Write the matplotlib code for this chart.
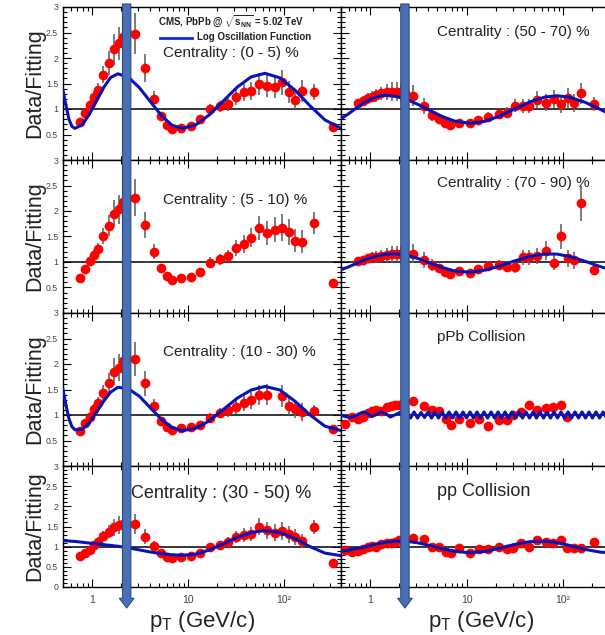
import numpy as np
import matplotlib.pyplot as plt
from matplotlib.patches import FancyArrowPatch, ArrowStyle
from matplotlib.lines import Line2D
from matplotlib.ticker import LogLocator, NullFormatter, MultipleLocator
from matplotlib.transforms import blended_transform_factory

plt.rcParams['font.family'] = ['Liberation Sans', 'DejaVu Sans']
plt.rcParams['mathtext.fontset'] = 'custom'
plt.rcParams['mathtext.rm'] = 'Liberation Sans'
plt.rcParams['mathtext.it'] = 'Liberation Sans:italic'
plt.rcParams['mathtext.bf'] = 'Liberation Sans:bold'

## pT bins (GeV/c)

pbpb_pt = [0.75, 0.85, 0.95, 1.05, 1.15, 1.3, 1.5, 1.7, 1.9, 2.1, 2.3, 2.8, 3.6, 4.4, 5.2, 6.0,
           6.8, 8.4, 10.8, 13.2, 16.8, 21.6, 26.4, 32.0, 38.4, 44.8, 54.4, 67.2, 80.0, 95.0,
           112.2, 130.4, 152.5, 207.5, 325.0]

# relative uncertainty per PbPb bin
pbpb_rel_err = [0.08, 0.08, 0.09, 0.09, 0.10, 0.10, 0.12, 0.14, 0.14, 0.14, 0.14, 0.16, 0.15,
                0.12, 0.09, 0.08, 0.08, 0.08, 0.09, 0.10, 0.10, 0.10, 0.11, 0.12, 0.13, 0.13,
                0.14, 0.15, 0.15, 0.16, 0.16, 0.16, 0.16, 0.12, 0.08]

pa_pt = [0.55, 0.65, 0.75, 0.85, 0.95, 1.05, 1.15, 1.3, 1.5, 1.65, 1.8, 2.0, 2.8, 3.6, 4.4, 5.2,
         6.2, 6.9, 8.4, 10.8, 13.5, 16.8, 21.9, 26.0, 30.6, 37.0, 44.8, 54.3, 66.4, 79.4, 94.5,
         109.0]
pp_pt = pa_pt + [130.4, 152.5, 207.5]

## data / fit ratios

ratio_0_5 = [0.75, 0.93, 1.08, 1.24, 1.37, 1.67, 1.90, 2.17, 2.29, 2.42, 2.50, 2.48, 1.80, 1.20,
             0.86, 0.69, 0.60, 0.63, 0.67, 0.80, 1.00, 1.05, 1.09, 1.23, 1.33, 1.35, 1.49, 1.45,
             1.43, 1.52, 1.33, 1.18, 1.36, 1.33, 0.65]
ratio_5_10 = [0.69, 0.86, 1.01, 1.14, 1.25, 1.51, 1.71, 1.95, 2.03, 2.18, 2.25, 2.26, 1.73, 1.20,
              0.89, 0.73, 0.65, 0.68, 0.70, 0.80, 0.99, 1.05, 1.12, 1.27, 1.35, 1.48, 1.67, 1.57,
              1.63, 1.67, 1.59, 1.42, 1.40, 1.76, 0.58]
ratio_10_30 = [0.69, 0.84, 0.97, 1.11, 1.23, 1.44, 1.62, 1.85, 1.93, 2.05, 2.10, 2.09, 1.62, 1.17,
               0.89, 0.76, 0.70, 0.75, 0.76, 0.81, 0.95, 1.04, 1.09, 1.15, 1.24, 1.29, 1.40, 1.40,
               np.nan, 1.37, 1.18, 1.12, 1.06, 1.07, 0.73]
ratio_30_50 = [0.77, 0.85, 0.92, 1.04, 1.12, 1.27, 1.37, 1.48, 1.54, 1.55, 1.55, 1.56, 1.24, 1.01,
               0.84, 0.75, 0.73, 0.74, 0.77, 0.84, 0.99, 1.04, 1.12, 1.24, 1.29, 1.32, 1.49, 1.41,
               1.35, 1.39, 1.31, 1.25, 1.14, 1.49, 0.60]
ratio_50_70 = [1.11, 1.16, 1.21, 1.24, 1.27, 1.31, 1.33, 1.34, 1.34, 1.33, 1.32, 1.26, 1.06, 0.88,
               0.80, 0.73, 0.69, 0.72, 0.73, 0.78, 0.85, 0.90, 0.93, 1.06, 1.05, 1.06, 1.18, 1.12,
               1.19, 1.10, 1.21, 1.12, 1.31, 1.10, np.nan]
ratio_70_90 = [1.01, 1.04, 1.07, 1.09, 1.10, 1.12, 1.14, 1.15, 1.16, 1.16, 1.16, 1.16, 1.04, 0.94,
               0.88, 0.81, 0.76, 0.83, 0.79, 0.86, 0.92, 0.94, 0.91, 0.90, 1.09, 1.09, 1.12, 1.22,
               0.99, 1.50, 1.07, 1.03, 2.15, 0.84, np.nan]
ratio_ppb = [0.82, 0.97, 0.93, 0.97, 1.03, 1.07, 1.10, 1.07, 1.15, 1.18, 1.20, 1.20, 1.28, 1.18,
             1.10, 1.08, 0.93, 0.80, 0.92, 0.85, 0.92, 0.78, 0.90, 0.90, 1.00, 1.05, 1.20, 1.10,
             1.13, 1.16, 1.20, 0.97]
ratio_pp = [0.92, 0.88, 0.90, 0.94, 0.98, 1.02, 1.00, 1.06, 1.08, 1.10, 1.12, 1.17, 1.22, 1.18,
            1.00, 0.98, 0.88, 0.84, 0.96, 0.85, 0.94, 0.94, 1.00, 0.94, 0.96, 1.10, 1.00, 1.17,
            1.12, 1.08, 1.17, 0.96, 0.96, 0.96, 1.12]

err_ppb = [0.05, 0.05, 0.05, 0.05, 0.05, 0.05, 0.05, 0.06, 0.06, 0.06, 0.07, 0.07, 0.08, 0.07,
           0.06, 0.05, 0.05, 0.05, 0.05, 0.05, 0.05, 0.05, 0.05, 0.05, 0.05, 0.06, 0.08, 0.06,
           0.06, 0.07, 0.08, 0.06]
err_pp = [0.04, 0.04, 0.04, 0.04, 0.04, 0.04, 0.04, 0.05, 0.05, 0.05, 0.05, 0.06, 0.06, 0.06,
          0.05, 0.05, 0.05, 0.05, 0.05, 0.05, 0.05, 0.05, 0.05, 0.05, 0.05, 0.06, 0.06, 0.06,
          0.06, 0.06, 0.07, 0.06, 0.06, 0.06, 0.07]

## log oscillation fit, sampled

fit_pt_left = [0.5, 0.536, 0.576, 0.619, 0.665, 0.79, 0.937, 1.114, 1.324, 1.57, 1.866, 2.41,
               3.11, 4.02, 5.2, 6.7, 8.66, 12.06, 16.83, 23.4, 32.6, 45.5, 63.4, 90.8, 130.0,
               187.0, 267.0, 383.0]
fit_0_5 = [1.36, 1.08, 0.80, 0.66, 0.62, 0.69, 0.89, 1.155, 1.42, 1.62, 1.69, 1.62, 1.42, 1.155,
           0.89, 0.69, 0.62, 0.69, 0.89, 1.16, 1.43, 1.63, 1.70, 1.61, 1.37, 1.06, 0.785, 0.634]
fit_10_30 = [1.50, 1.20, 0.93, 0.77, 0.71, 0.72, 0.84, 1.05, 1.27, 1.45, 1.545, 1.51, 1.37, 1.15,
             0.93, 0.76, 0.69, 0.74, 0.89, 1.11, 1.33, 1.49, 1.56, 1.49, 1.27, 1.00, 0.78, 0.70]
fit_30_50 = [1.15, 1.145, 1.14, 1.135, 1.13, 1.11, 1.09, 1.07, 1.05, 1.03, 1.01, 0.97, 0.92,
             0.87, 0.83, 0.80, 0.785, 0.815, 0.92, 1.07, 1.23, 1.35, 1.40, 1.35, 1.20, 1.00,
             0.84, 0.78]

fit_pt_right = [0.5, 0.592, 0.699, 0.826, 1.0, 1.196, 1.43, 1.86, 2.42, 3.14, 4.18, 5.57, 7.6,
                10.87, 15.55, 22.2, 31.8, 45.5, 65.1, 86.7, 118.0, 169.0, 242.0, 307.0]
fit_50_70 = [0.81, 0.90, 1.0, 1.10, 1.19, 1.25, 1.27, 1.247, 1.184, 1.09, 0.97, 0.855, 0.761,
             0.72, 0.759, 0.863, 1.004, 1.14, 1.235, 1.26, 1.23, 1.133, 0.995, 0.90]
fit_70_90 = [0.85, 0.90, 0.96, 1.02, 1.08, 1.12, 1.15, 1.16, 1.129, 1.068, 0.98, 0.893, 0.823,
             0.80, 0.84, 0.923, 1.024, 1.11, 1.157, 1.155, 1.107, 1.015, 0.911, 0.853]
fit_pp = [0.89, 0.91, 0.95, 0.975, 1.028, 1.072, 1.108, 1.138, 1.133, 1.095, 1.028, 0.95, 0.882,
          0.85, 0.882, 0.962, 1.058, 1.125, 1.136, 1.10, 1.028, 0.932, 0.865, 0.85]

fit_pt_ppb = [0.5, 0.55, 0.62, 0.70, 0.78, 0.86, 0.95, 1.05, 1.17, 1.3, 1.45, 1.62, 1.8,
              2.046, 2.224, 2.418, 2.629, 2.858, 3.107, 3.377, 3.671, 3.991, 4.339, 4.717, 5.128,
              5.574, 6.06, 6.588, 7.161, 7.785, 8.463, 9.2, 10.0, 10.87, 11.82, 12.85, 13.97,
              15.19, 16.51, 17.95, 19.51, 21.21, 23.06, 25.07, 27.25, 29.62, 32.2, 35.01, 38.06,
              41.37, 44.98, 48.89, 53.15, 57.78, 62.81, 68.28, 74.23, 80.7, 87.73, 95.37, 103.7,
              112.7, 122.5, 133.2, 144.8, 157.4, 171.1, 186.0, 202.2, 219.8, 239.0, 259.8, 282.4,
              307.0]
fit_ppb = [1.0, 0.97, 0.95, 0.98, 1.03, 1.06, 1.02, 0.97, 1.01, 1.06, 1.03, 0.96, 1.0,
           1.05, 0.95, 1.06, 0.94, 1.06, 0.94, 1.05, 0.95, 1.06, 0.94, 1.06, 0.94, 1.06,
           0.94, 1.06, 0.94, 1.06, 0.94, 1.06, 0.94, 1.06, 0.94, 1.06, 0.94, 1.06, 0.94,
           1.06, 0.94, 1.06, 0.94, 1.06, 0.94, 1.06, 0.94, 1.06, 0.94, 1.06, 0.94, 1.06,
           0.94, 1.06, 0.94, 1.06, 0.94, 1.06, 0.94, 1.06, 0.94, 1.06, 0.94, 1.06, 0.94,
           1.06, 0.94, 1.06, 0.94, 1.06, 0.94, 1.06, 0.94, 1.06]

arrow_pt = 2.3

## layout (pixel boxes)

W, H = 605, 635
fig = plt.figure(figsize=(W / 100, H / 100), dpi=100)

def frac(x, y):
    return x / W, 1 - y / H

row_px = [(7, 160), (160, 313), (313, 466), (466, 587)]
left_px = (63, 341)
right_px = (341, 612)
left_xlim = (0.5, 392)
right_xlim = (0.5, 322)

text_col = '#222222'
fit_col = '#0a14b4'


def make_axes(xpx, ypx):
    x0, y1 = frac(xpx[0], ypx[1])
    x1, y0 = frac(xpx[1], ypx[0])
    return fig.add_axes([x0, y1, x1 - x0, y0 - y1])


def draw_panel(ax, xlim, pt, vals, errs, fit_pt=None, fit=None, left=True, bottom=False):
    ax.set_xscale('log')
    ax.set_xlim(xlim)
    ax.set_ylim(0, 3)
    ax.axhline(1, color='black', lw=1.1, zorder=1)
    ax.errorbar(pt, vals, yerr=errs, fmt='o', color='#ff0000', ms=7, mew=0,
                ecolor='#666666', elinewidth=1.2, capsize=0, zorder=3)
    if fit is not None:
        ax.plot(fit_pt, fit, color=fit_col, lw=2.2, zorder=4, solid_joinstyle='round')

    for s in ax.spines.values():
        s.set_linewidth(1.0)
    ax.xaxis.set_major_locator(LogLocator(base=10, numticks=10))
    ax.xaxis.set_minor_locator(LogLocator(base=10, subs=np.arange(2, 10), numticks=10))
    ax.xaxis.set_minor_formatter(NullFormatter())
    ax.yaxis.set_major_locator(MultipleLocator(0.5))
    ax.yaxis.set_minor_locator(MultipleLocator(0.1))
    ax.tick_params(which='both', direction='in', top=True, right=left, width=0.8,
                   colors='black', labelcolor='#444444')
    ax.tick_params(which='major', length=6)
    ax.tick_params(which='minor', length=3)
    ax.tick_params(axis='y', labelsize=6.3, pad=3.5)
    ax.tick_params(axis='x', labelsize=7.5, pad=6)

    if bottom:
        ax.set_xticks([1, 10, 100], labels=['1', '10', '10²'])
    else:
        ax.xaxis.set_major_formatter(NullFormatter())
    if left:
        ticks = [0, 0.5, 1, 1.5, 2, 2.5, 3]
        labels = ['0' if bottom else '', '0.5', '1', '1.5', '2', '2.5', '3']
        ax.set_yticks(ticks, labels=labels)
    else:
        ax.yaxis.set_major_formatter(NullFormatter())


pbpb_left = [(ratio_0_5, fit_0_5), (ratio_5_10, None), (ratio_10_30, fit_10_30),
             (ratio_30_50, fit_30_50)]
right_sets = [(pbpb_pt, ratio_50_70, None, fit_pt_right, fit_50_70),
              (pbpb_pt, ratio_70_90, None, fit_pt_right, fit_70_90),
              (pa_pt, ratio_ppb, err_ppb, fit_pt_ppb, fit_ppb),
              (pp_pt, ratio_pp, err_pp, fit_pt_right, fit_pp)]

left_axes = []
for i, (vals, fit) in enumerate(pbpb_left):
    ax = make_axes(left_px, row_px[i])
    errs = np.array(vals) * np.array(pbpb_rel_err)
    draw_panel(ax, left_xlim, pbpb_pt, vals, errs, fit_pt_left, fit, left=True, bottom=(i == 3))
    left_axes.append(ax)

right_axes = []
for i, (pt, vals, errs, fpt, fit) in enumerate(right_sets):
    ax = make_axes(right_px, row_px[i])
    if errs is None:
        errs = np.array(vals) * np.array(pbpb_rel_err)
    draw_panel(ax, right_xlim, pt, vals, errs, fpt, fit, left=False, bottom=(i == 3))
    right_axes.append(ax)

## labels

for (y0, y1) in row_px:
    fig.text(*frac(35, (y0 + y1) / 2), 'Data/Fitting', rotation=90, fontsize=15.5,
             ha='center', va='center', color=text_col)

panel_labels = [
    (163, 53, 'Centrality : (0 - 5) %', 11), (437, 32, 'Centrality : (50 - 70) %', 11),
    (163, 200, 'Centrality : (5 - 10) %', 11), (437, 183, 'Centrality : (70 - 90) %', 11),
    (163, 352, 'Centrality : (10 - 30) %', 11), (437, 337, 'pPb Collision', 11),
    (131, 493, 'Centrality : (30 - 50) %', 13), (437, 492, 'pp Collision', 13),
]
for x, y, s, fs in panel_labels:
    fig.text(*frac(x, y), s, fontsize=fs, ha='left', va='center', color=text_col)

fig.text(*frac(158, 22), r'CMS, PbPb @ $\sqrt{\mathbf{s}_{\mathbf{NN}}}$ = 5.02 TeV',
         fontsize=7, fontweight='bold', ha='left', va='center', color=text_col)
lx0, ly = frac(160, 38)
lx1, _ = frac(192, 38)
fig.add_artist(Line2D([lx0, lx1], [ly, ly], color='#1428e6', lw=2.0))
fig.text(*frac(197, 37), 'Log Oscillation Function', fontsize=7, fontweight='bold',
         ha='left', va='center', color=text_col)

for xc in (202, 481):
    fig.text(*frac(xc, 622), r'p$_{\mathrm{T}}$ (GeV/c)', fontsize=16, ha='center',
             va='center', color=text_col)

## marker arrows at pT = 2.3 GeV/c

style = ArrowStyle.Simple(head_length=7, head_width=10.5, tail_width=6)
for ax in (left_axes[3], right_axes[3]):
    tr = blended_transform_factory(ax.transData, fig.transFigure)
    arrow = FancyArrowPatch((arrow_pt, frac(0, 4)[1]), (arrow_pt, frac(0, 608)[1]),
                            transform=tr, arrowstyle=style, mutation_scale=1,
                            shrinkA=0, shrinkB=0, facecolor='#4a70b4', edgecolor='#2c4a86',
                            lw=0.8, zorder=10)
    fig.add_artist(arrow)

fig.savefig('out.png', dpi=100)
